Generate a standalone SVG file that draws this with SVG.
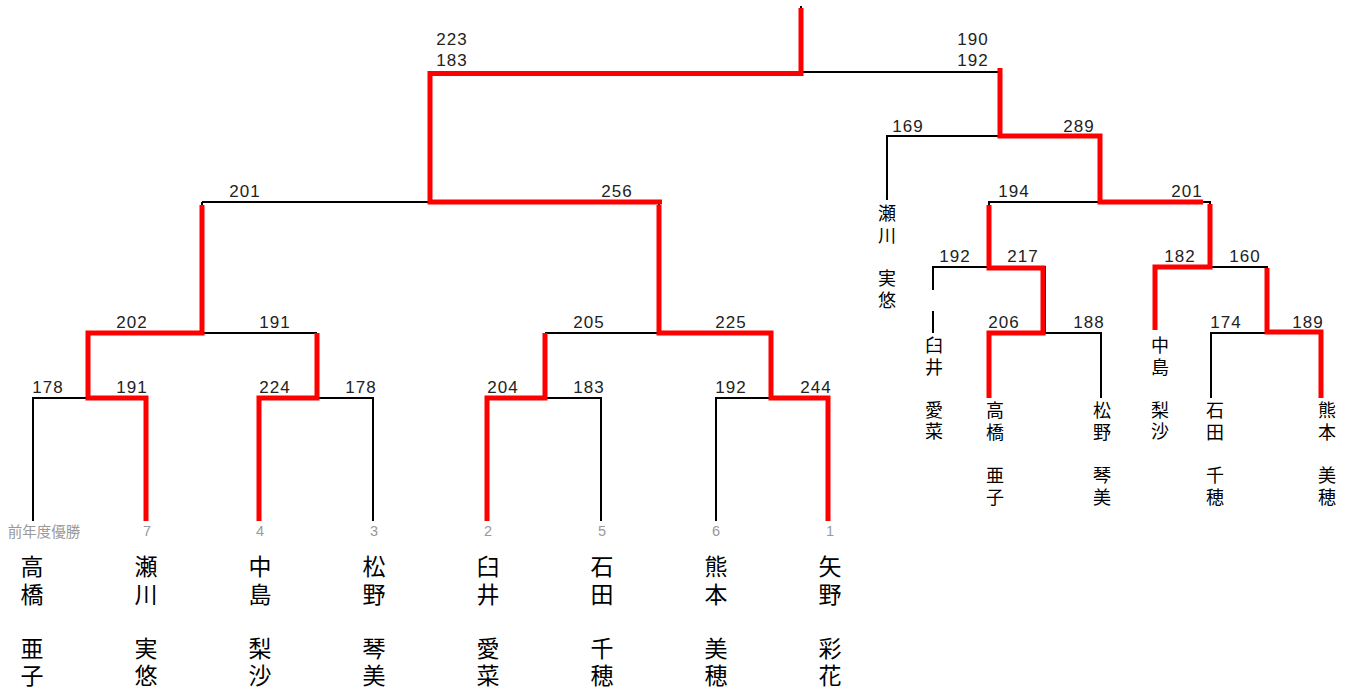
<svg xmlns="http://www.w3.org/2000/svg" width="1353" height="691" viewBox="0 0 1353 691">
<style>
.b{fill:none;stroke:#000;stroke-width:2}
.r{fill:none;stroke:#ff0000;stroke-width:5;stroke-linejoin:miter;stroke-linecap:butt}
.n{font-family:"Liberation Sans",Arial,sans-serif;font-size:17px;letter-spacing:1px;fill:#222;text-anchor:middle}
.s{font-family:"Liberation Sans","Noto Sans CJK JP",sans-serif;font-size:14.5px;fill:#999;text-anchor:middle}
.p{font-family:"Liberation Sans","Noto Sans CJK JP",sans-serif;font-size:23px;fill:#000;text-anchor:middle}
.q{font-family:"Liberation Sans","Noto Sans CJK JP",sans-serif;font-size:18px;fill:#000;text-anchor:middle}
</style>
<rect width="1353" height="691" fill="#fff"/>
<g id="connectors">
<path class="b" d="M33,521V398H146V521M88,398V333M259,521V398H373V521M317,398V333M88,333H317M202,333V202M487,521V398H601V521M545,398V333M716,521V398H828V521M771,398V333M545,333H771M659,333V202M202,202H659M430,202V72H1000M801,72V6"/>
<path class="b" d="M1000,72V136M887,200V136H1100M1100,136V202M989,267V202H1210V267M933,290V267H1045V333M933,311V333M1155,330V267H1267V333M989,398V333H1101V398M1211,398V333H1321V398"/>
</g>
<g id="winners">
<path class="r" d="M146,521V398H88V333H202V205"/>
<path class="r" d="M259,521V398H317V333"/>
<path class="r" d="M487,521V398H545V333"/>
<path class="r" d="M828,521V398H771V333H659V205M662,202H430V73.5H801V8"/>
<path class="r" d="M1000,68V136H1100V202H1203M1210,204V267H1155V330"/>
<path class="r" d="M989,205V268H1043V333H989V398"/>
<path class="r" d="M1267,268V332H1321V398"/>
</g>
<g id="scores">
<text class="n" x="48" y="393">178</text>
<text class="n" x="132" y="393">191</text>
<text class="n" x="275" y="393">224</text>
<text class="n" x="361" y="393">178</text>
<text class="n" x="503" y="393">204</text>
<text class="n" x="589" y="393">183</text>
<text class="n" x="731" y="393">192</text>
<text class="n" x="816" y="393">244</text>
<text class="n" x="132" y="328">202</text>
<text class="n" x="275" y="328">191</text>
<text class="n" x="589" y="328">205</text>
<text class="n" x="731" y="328">225</text>
<text class="n" x="245" y="197">201</text>
<text class="n" x="617" y="197">256</text>
<text class="n" x="452" y="45">223</text>
<text class="n" x="452" y="66">183</text>
<text class="n" x="973" y="45">190</text>
<text class="n" x="973" y="66">192</text>
<text class="n" x="908" y="132">169</text>
<text class="n" x="1079" y="132">289</text>
<text class="n" x="1014" y="197">194</text>
<text class="n" x="1187" y="197">201</text>
<text class="n" x="955" y="262">192</text>
<text class="n" x="1023" y="262">217</text>
<text class="n" x="1180" y="262">182</text>
<text class="n" x="1245" y="262">160</text>
<text class="n" x="1004" y="328">206</text>
<text class="n" x="1089" y="328">188</text>
<text class="n" x="1226" y="328">174</text>
<text class="n" x="1308" y="328">189</text>
</g>
<g id="seeds">
<text class="s" x="44" y="537">前年度優勝</text>
<text class="s" x="147" y="536">7</text>
<text class="s" x="260" y="536">4</text>
<text class="s" x="374" y="536">3</text>
<text class="s" x="488" y="536">2</text>
<text class="s" x="602" y="536">5</text>
<text class="s" x="716" y="536">6</text>
<text class="s" x="830" y="536">1</text>
</g>
<g id="player-takahashi"><text class="p" x="32" y="575">高</text><text class="p" x="32" y="603">橋</text><text class="p" x="32" y="657">亜</text><text class="p" x="32" y="684">子</text></g>
<g id="player-segawa"><text class="p" x="146" y="575">瀬</text><text class="p" x="146" y="603">川</text><text class="p" x="146" y="657">実</text><text class="p" x="146" y="684">悠</text></g>
<g id="player-nakajima"><text class="p" x="260" y="575">中</text><text class="p" x="260" y="603">島</text><text class="p" x="260" y="657">梨</text><text class="p" x="260" y="684">沙</text></g>
<g id="player-matsuno"><text class="p" x="374" y="575">松</text><text class="p" x="374" y="603">野</text><text class="p" x="374" y="657">琴</text><text class="p" x="374" y="684">美</text></g>
<g id="player-usui"><text class="p" x="488" y="575">臼</text><text class="p" x="488" y="603">井</text><text class="p" x="488" y="657">愛</text><text class="p" x="488" y="684">菜</text></g>
<g id="player-ishida"><text class="p" x="602" y="575">石</text><text class="p" x="602" y="603">田</text><text class="p" x="602" y="657">千</text><text class="p" x="602" y="684">穂</text></g>
<g id="player-kumamoto"><text class="p" x="716" y="575">熊</text><text class="p" x="716" y="603">本</text><text class="p" x="716" y="657">美</text><text class="p" x="716" y="684">穂</text></g>
<g id="player-yano"><text class="p" x="830" y="575">矢</text><text class="p" x="830" y="603">野</text><text class="p" x="830" y="657">彩</text><text class="p" x="830" y="684">花</text></g>
<g id="r-segawa"><text class="q" x="887" y="220">瀬</text><text class="q" x="887" y="242">川</text><text class="q" x="887" y="285">実</text><text class="q" x="887" y="307">悠</text></g>
<g id="r-usui"><text class="q" x="934" y="352">臼</text><text class="q" x="934" y="374">井</text><text class="q" x="934" y="417">愛</text><text class="q" x="934" y="438">菜</text></g>
<g id="r-takahashi"><text class="q" x="995" y="417">高</text><text class="q" x="995" y="439">橋</text><text class="q" x="995" y="482">亜</text><text class="q" x="995" y="504">子</text></g>
<g id="r-matsuno"><text class="q" x="1102" y="417">松</text><text class="q" x="1102" y="439">野</text><text class="q" x="1102" y="482">琴</text><text class="q" x="1102" y="504">美</text></g>
<g id="r-nakajima"><text class="q" x="1160" y="352">中</text><text class="q" x="1160" y="374">島</text><text class="q" x="1160" y="417">梨</text><text class="q" x="1160" y="438">沙</text></g>
<g id="r-ishida"><text class="q" x="1215" y="417">石</text><text class="q" x="1215" y="439">田</text><text class="q" x="1215" y="482">千</text><text class="q" x="1215" y="504">穂</text></g>
<g id="r-kumamoto"><text class="q" x="1327" y="417">熊</text><text class="q" x="1327" y="439">本</text><text class="q" x="1327" y="482">美</text><text class="q" x="1327" y="504">穂</text></g>
</svg>
